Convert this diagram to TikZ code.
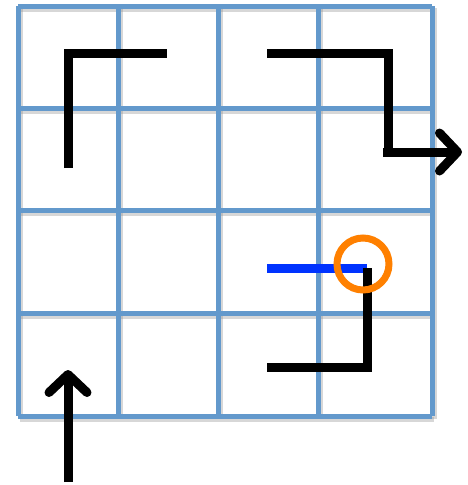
\documentclass[tikz,border=0pt]{standalone}
\usetikzlibrary{arrows.meta}
\definecolor{gridblue}{RGB}{99,153,204}
\definecolor{pathblue}{RGB}{0,51,255}
\definecolor{ringorange}{RGB}{255,128,0}
\tikzset{
  gridline/.style={draw=gridblue, line width=5pt},
  gridshadow/.style={draw=black!45, opacity=0.35, line width=5pt},
  route/.style={draw=black, line width=9pt},
  bluepath/.style={draw=pathblue, line width=9pt},
  ring/.style={draw=ringorange, line width=7pt},
  barb/.style={-{Straight Barb[length=18pt, width=38pt, round, line width=9pt 0]}}
}
\begin{document}
\begin{tikzpicture}[x=1pt, y=-1pt]
\useasboundingbox (0,0) rectangle (468,485);
% grid shadow
\foreach \x in {18,118,218,318,432} \draw[gridshadow] (\x+2,8) -- (\x+2,419);
\foreach \y in {6,108,210,313,416} \draw[gridshadow] (20,\y+3) -- (434,\y+3);
% grid
\foreach \x in {18,118,218,318,432} \draw[gridline] (\x,6) -- (\x,416);
\foreach \y in {6,108,210,313,416} \draw[gridline] (18,\y) -- (432,\y);
% coordinates
\coordinate (a1) at (68,168);
\coordinate (a2) at (68,53);
\coordinate (a3) at (167,53);
\coordinate (b1) at (267,53);
\coordinate (b2) at (388,53);
\coordinate (b3) at (388,152);
\coordinate (b4) at (383,152);
\coordinate (b5) at (462,152);
\coordinate (c1) at (267,268);
\coordinate (c2) at (367,268);
\coordinate (c3) at (367,367);
\coordinate (c4) at (267,367);
\coordinate (d1) at (68,482);
\coordinate (d2) at (68,370);
% paths
\draw[route] (a1) -- (a2) -- (a3);
\draw[route] (b1) -- (b2) -- (b3);
\draw[route, barb] (b4) -- (b5);
\draw[bluepath] (c1) -- (c2);
\draw[route] (c2) -- (c3) -- (c4);
\draw[route, barb] (d1) -- (d2);
\node[circle, ring, minimum size=52pt, inner sep=0pt] (ringnode) at (363,264) {};
\end{tikzpicture}
\end{document}
